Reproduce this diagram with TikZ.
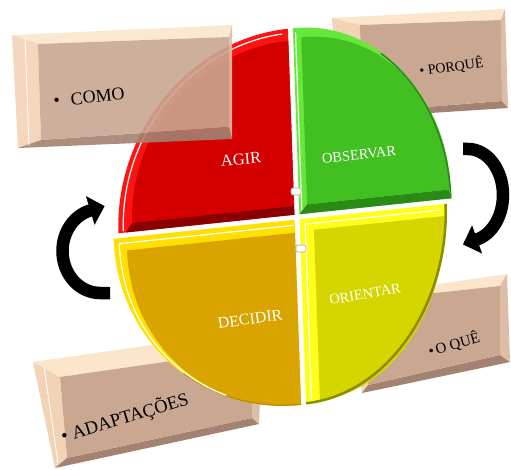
\documentclass[tikz,border=0pt]{standalone}
\usepackage{fontspec}
\setmainfont{Liberation Serif}
\usetikzlibrary{arrows.meta}
\definecolor{redrim}{HTML}{FF1212}
\definecolor{redface}{HTML}{D40000}
\definecolor{redbev}{HTML}{8A0000}
\definecolor{greenrim}{HTML}{66E83A}
\definecolor{greenface}{HTML}{42C021}
\definecolor{greenbev}{HTML}{2A8A16}
\definecolor{orangerim}{HTML}{FFE000}
\definecolor{orangeface}{HTML}{D9A400}
\definecolor{orangeedge}{HTML}{B98A00}
\definecolor{yellowrim}{HTML}{FFFF1A}
\definecolor{yellowface}{HTML}{D5D500}
\definecolor{yellowedge}{HTML}{8C8C00}
\definecolor{boxtop}{HTML}{FBE6CB}
\definecolor{boxleft}{HTML}{F3D3B6}
\definecolor{boxbot}{HTML}{A38272}
\definecolor{boxright}{HTML}{DDBDA6}
\definecolor{boxface}{HTML}{C9A791}
\newcommand\tanbox[8]{%
  \fill[boxtop] #1 -- #2 -- #6 -- #5 -- cycle;
  \fill[boxleft] #1 -- #5 -- #8 -- #4 -- cycle;
  \fill[boxbot] #8 -- #7 -- #3 -- #4 -- cycle;
  \fill[boxright] #6 -- #2 -- #3 -- #7 -- cycle;
  \fill[boxface] #5 -- #6 -- #7 -- #8 -- cycle;
}
\tikzset{
  hl/.style={white, line width=1.2pt},
  pielabel/.style={text=white, inner sep=0pt},
  boxlabel/.style={text=black, inner sep=0pt, anchor=base west},
  bigarrow/.style={line width=12.5pt, black, -{Triangle[length=15pt,width=30pt,line width=0pt]}},
  pin/.style={fill=white, draw=gray!70, line width=0.6pt, rounded corners=2pt},
}
\begin{document}
\begin{tikzpicture}[x=1pt,y=-1pt]
\useasboundingbox (0,0) rectangle (511,470);
\fill[white] (0,0) rectangle (511,470);

% boxes behind the pie
\tanbox{(332,18)}{(505,9)}{(508,108)}{(338,119)}{(360,25)}{(501,20)}{(502,101)}{(362,112)}
\tanbox{(356,296)}{(507,274)}{(510,362)}{(362,393)}{(370,300)}{(500,286)}{(500,355)}{(368,385)}
\tanbox{(33,362)}{(263,329)}{(259,424)}{(55,468)}{(60,377)}{(255,349)}{(252,418)}{(67,458)}
\draw[white, line width=0.8pt] (44,367) -- (58,463);

% pie
\begin{scope}[shift={(297,217)}]
\begin{scope}[cm={1,0.105,-0.035,1,(0,0)}]
  % red
  \fill[redrim] (-2.5,-2.5) -- ++(-176,0) arc[start angle=180,end angle=270,x radius=176,y radius=186] -- cycle;
  \fill[redbev] (-2.5,-2.5) -- (-171,-2.5) -- (-164.5,-11.5) -- (-2.5,-11.5) -- cycle;
  \fill[redface] (-2.5,-11.5) -- ++(-162,0) arc[start angle=180,end angle=270,x radius=162,y radius=165] -- cycle;
  \draw[hl] (-173.5,-4) arc[start angle=180,end angle=268,x radius=171,y radius=180];
  % green
  \fill[greenrim] (2.5,-2.5) -- ++(152,0) arc[start angle=0,end angle=-90,x radius=152,y radius=186] -- cycle;
  \fill[greenbev] (2.5,-2.5) -- (10.5,-11.5) -- (152,-11.5) -- (154,-2.5) -- cycle;
  \fill[greenface] (10.5,-11.5) -- ++(143.5,0) arc[start angle=0,end angle=-90,x radius=143.5,y radius=167] -- cycle;
  \draw[greenbev, line width=1.5pt] (153.8,-2.5) arc[start angle=0,end angle=-55,x radius=151.3,y radius=185.3];
  \draw[hl] (5,-6) -- (5,-184);
  % orange
  \fill[orangerim] (-2.5,2.5) -- ++(-181,0) arc[start angle=180,end angle=90,x radius=181,y radius=185] -- cycle;
  \fill[orangeface] (-2.5,15.5) -- ++(-168,0) arc[start angle=180,end angle=90,x radius=168,y radius=172] -- cycle;
  \draw[orangeedge, line width=1.2pt] (-2.5,187) arc[start angle=90,end angle=130,x radius=180.5,y radius=184.5];
  \draw[hl] (-4,8) -- (-178,8);
  \draw[hl] (-178,8) arc[start angle=180,end angle=115,x radius=175.5,y radius=179];
  % yellow
  \fill[yellowrim] (2.5,2.5) -- ++(147,0) arc[start angle=0,end angle=90,x radius=147,y radius=185] -- cycle;
  \fill[yellowface] (16.5,14.5) -- ++(130,0) arc[start angle=0,end angle=90,x radius=130,y radius=170] -- cycle;
  \draw[yellowedge, line width=2.5pt] (148.5,2.5) arc[start angle=0,end angle=90,x radius=146,y radius=184];
  \draw[hl] (8,8) -- (8,184);
  \draw[hl] (8,8) -- (143,8);
\end{scope}
\end{scope}

% pins
\draw[pin] (291,188) rectangle (301,195);
\draw[pin] (296,245) rectangle (306,252);

% box in front (translucent)
\begin{scope}[fill opacity=0.9]
\tanbox{(12,35)}{(232,25)}{(232,139)}{(18,148)}{(38,44)}{(229,37)}{(229,127)}{(41,140)}
\end{scope}
\draw[white, line width=0.8pt] (25,38) -- (29,146);

% pie labels
\node[pielabel, rotate=5, font=\fontsize{16.5}{18}\selectfont] (agir) at (241,159) {AGIR};
\node[pielabel, rotate=6, font=\fontsize{14.5}{17}\selectfont] (observar) at (359,155) {OBSERVAR};
\node[pielabel, rotate=8, font=\fontsize{16}{18}\selectfont] (decidir) at (250,319) {DECIDIR};
\node[pielabel, rotate=10, font=\fontsize{14.5}{17}\selectfont] (orientar) at (365,294) {ORIENTAR};

% box labels
\node[boxlabel, rotate=6, font=\fontsize{18}{20}\selectfont] (como) at (54,107) {•\hspace{11pt}COMO};
\node[boxlabel, rotate=8, font=\fontsize{14}{16}\selectfont] (porque) at (420,76) {• PORQUÊ};
\node[boxlabel, rotate=16, font=\fontsize{15}{17}\selectfont] (oque) at (430,357) {•\hspace{2pt}O QUÊ};
\node[boxlabel, rotate=17, font=\fontsize{18.5}{20}\selectfont] (adapt) at (63,443) {•\hspace{5pt}ADAPTAÇÕES};

% curved arrows
\coordinate (la) at (110,293);
\draw[bigarrow] (la) -- ++(-10,0) arc[start angle=90,end angle=255,x radius=37.5,y radius=42] -- ++(14.3,-4.3);
\coordinate (ra) at (463,149);
\draw[bigarrow] (ra) -- ++(5,0) arc[start angle=-90,end angle=75,x radius=35,y radius=46] -- ++(-14.1,5.0);
\end{tikzpicture}
\end{document}
